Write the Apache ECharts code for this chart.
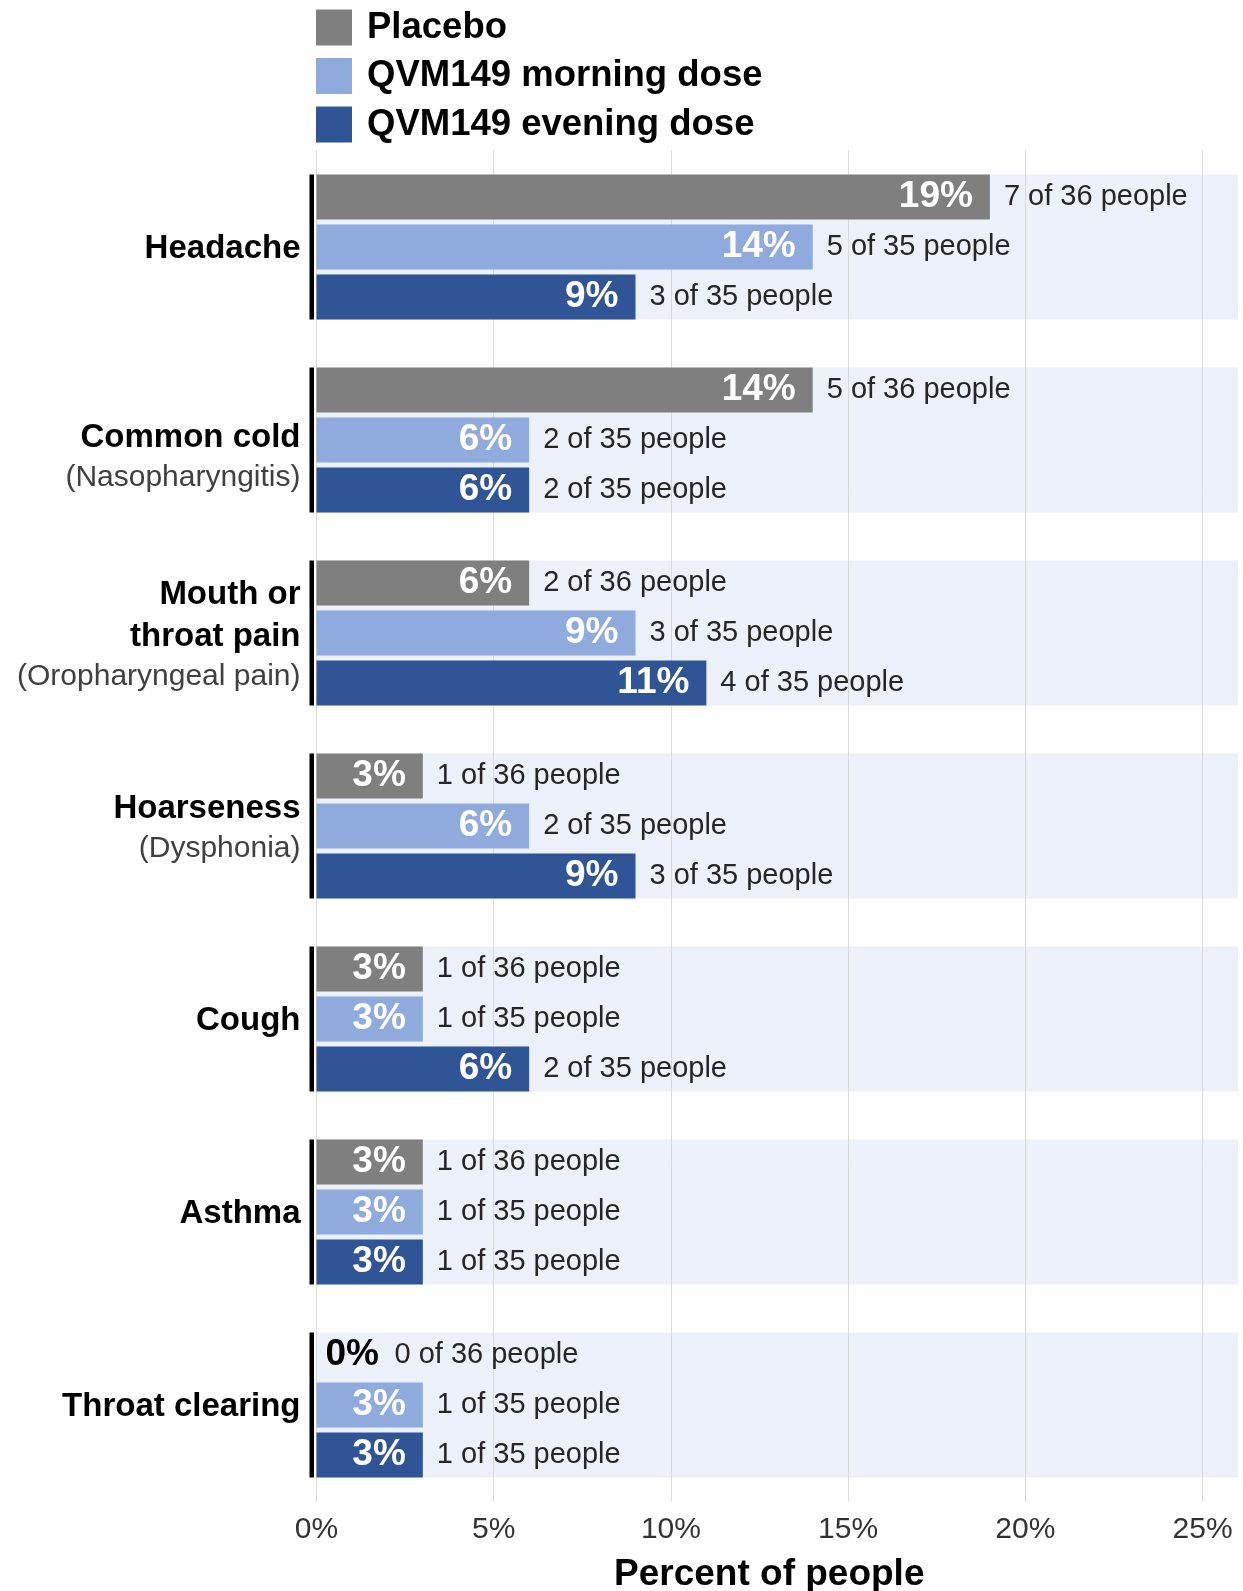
<!DOCTYPE html>
<html><head><meta charset="utf-8">
<script src="https://cdn.jsdelivr.net/npm/echarts@6/dist/echarts.min.js"></script>
<style>html,body{margin:0;padding:0;background:#fff}#c{width:1243px;height:1591px}</style>
</head><body><div id="c"></div>
<script>
// ---- data ----
const categoryTitles = ['Headache', 'Common cold', 'Mouth or\nthroat pain', 'Hoarseness', 'Cough', 'Asthma', 'Throat clearing'];
const categorySubtitles = ['', '(Nasopharyngitis)', '(Oropharyngeal pain)', '(Dysphonia)', '', '', ''];
const seriesNames = ['Placebo', 'QVM149 morning dose', 'QVM149 evening dose'];
const placeboPct = [19, 14, 6, 3, 3, 3, 0];
const morningPct = [14, 6, 9, 6, 3, 3, 3];
const eveningPct = [9, 6, 11, 9, 6, 3, 3];
const placeboCount = [7, 5, 2, 1, 1, 1, 0];
const morningCount = [5, 2, 3, 2, 1, 1, 1];
const eveningCount = [3, 2, 4, 3, 2, 1, 1];
const groupTotals = [36, 35, 35];
const xTickValues = [0, 5, 10, 15, 20, 25];

// ---- style ----
const FONT = "'Liberation Sans', Arial, sans-serif";
const colors = ['#7F7F7F', '#8FAADC', '#2F5597'];
const pcts = [placeboPct, morningPct, eveningPct];
const counts = [placeboCount, morningCount, eveningCount];

const series = [];
series.push({
  type: 'custom', coordinateSystem: 'cartesian2d', z: -1, silent: true,
  data: categoryTitles.map((c, i) => [0, i]),
  encode: { x: 0, y: 1 },
  renderItem: function (params, api) {
    const cs = params.coordSys;
    const y = api.coord([0, api.value(1)])[1];
    const slot = api.size([0, 1])[1];
    const h = slot * 0.752;
    return {
      type: 'group', children: [
        { type: 'rect', shape: { x: cs.x, y: y - h / 2, width: cs.width, height: h }, style: { fill: '#ECF0F8' } },
        { type: 'rect', shape: { x: cs.x - 7, y: y - h / 2, width: 4.5, height: h }, style: { fill: '#000' } }
      ]
    };
  }
});

for (let k = 0; k < 3; k++) {
  series.push({
    name: seriesNames[k], type: 'bar', stack: 's' + k, barWidth: 45, barGap: '11%', z: 3,
    itemStyle: { color: colors[k] },
    label: {
      show: true, position: 'insideRight', distance: 17, color: '#fff',
      fontSize: 37, fontWeight: 'bold', fontFamily: FONT,
      formatter: p => pcts[k][p.dataIndex] + '%'
    },
    data: pcts[k].map(v => v === 0 ? { value: v, label: { position: 'right', color: '#000', distance: 9 } } : v)
  });
  series.push({
    name: seriesNames[k] + ' count', type: 'bar', stack: 's' + k, barWidth: 45, z: 3, silent: true,
    itemStyle: { color: 'transparent' },
    label: {
      show: true, position: 'right', distance: 14, color: '#262626',
      fontSize: 29, fontFamily: FONT,
      formatter: p => counts[k][p.dataIndex] + ' of ' + groupTotals[k] + ' people'
    },
    data: pcts[k].map(v => v === 0 ? { value: 0, label: { distance: 78 } } : 0)
  });
}

const option = {
  animation: false,
  textStyle: { fontFamily: FONT },
  legend: {
    data: seriesNames, orient: 'vertical', left: 311, top: 4,
    icon: 'rect', itemWidth: 36, itemHeight: 36, itemGap: 11.5,
    textStyle: { fontSize: 36.5, fontWeight: 'bold', color: '#000', fontFamily: FONT, padding: [0, 0, 0, 10] }
  },
  grid: { left: 316.5, right: 5, top: 150.5, bottom: 89.5, outerBoundsMode: 'none', containLabel: false },
  xAxis: {
    type: 'value', min: 0, max: 26, interval: 5,
    axisLine: { show: false }, axisTick: { show: false },
    splitLine: { show: true, showMaxLine: false, lineStyle: { color: '#D9D9D9', width: 1 } },
    axisLabel: {
      fontSize: 30, color: '#333', margin: 13, showMaxLabel: false, fontFamily: FONT,
      formatter: v => xTickValues.indexOf(v) >= 0 ? v + '%' : ''
    },
    name: 'Percent of people', nameLocation: 'middle', nameGap: 55,
    nameTextStyle: { fontSize: 37, fontWeight: 'bold', color: '#000', fontFamily: FONT, padding: [0, 16, 0, 0] }
  },
  yAxis: {
    type: 'category', inverse: true, data: categoryTitles,
    axisLine: { show: false }, axisTick: { show: false },
    axisLabel: {
      margin: 16, padding: [4, 0, 0, 0],
      formatter: function (v, i) {
        let s = v.split('\n').map(t => '{t|' + t + '}').join('\n');
        if (categorySubtitles[i]) s += '\n{s|' + categorySubtitles[i] + '}';
        if (i === 1) s = '{g| }\n' + s;
        return s;
      },
      rich: {
        t: { fontSize: 33, fontWeight: 'bold', color: '#000', lineHeight: 42, fontFamily: FONT },
        s: { fontSize: 30, color: '#404040', lineHeight: 38, fontFamily: FONT },
        g: { fontSize: 10, lineHeight: 30 }
      }
    }
  },
  series: series
};
const chart = echarts.init(document.getElementById('c'), null, { renderer: 'canvas' });
chart.setOption(option);
</script>
</body></html>
